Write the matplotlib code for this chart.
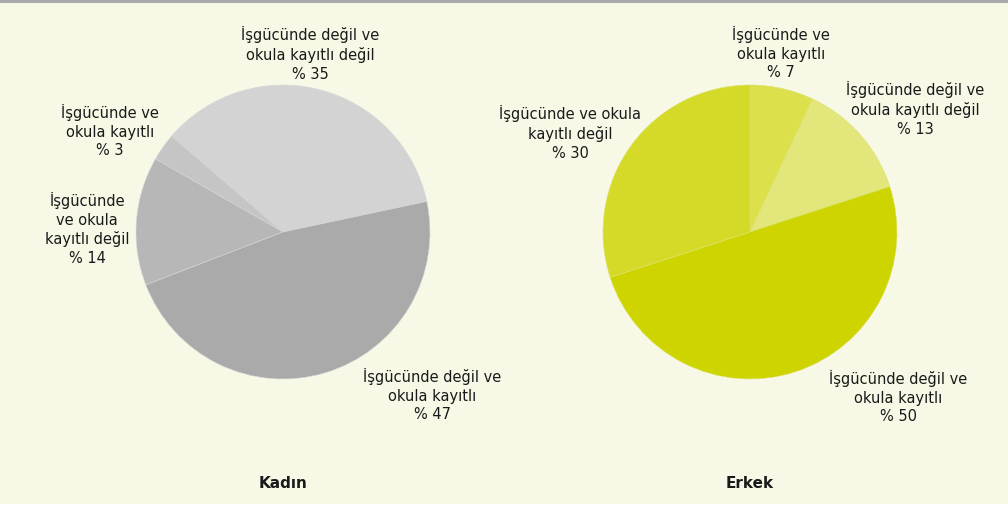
import matplotlib.pyplot as plt

# data
kadin_labels = ['İşgücünde değil ve\nokula kayıtlı değil\n% 35',
                'İşgücünde ve\nokula kayıtlı\n% 3',
                'İşgücünde\nve okula\nkayıtlı değil\n% 14',
                'İşgücünde değil ve\nokula kayıtlı\n% 47']
kadin_values = [35, 3, 14, 47]
kadin_colors = ['#d3d3d3', '#c5c5c5', '#b7b7b7', '#aaaaaa']

erkek_labels = ['İşgücünde ve\nokula kayıtlı\n% 7',
                'İşgücünde değil ve\nokula kayıtlı değil\n% 13',
                'İşgücünde değil ve\nokula kayıtlı\n% 50',
                'İşgücünde ve okula\nkayıtlı değil\n% 30']
erkek_values = [7, 13, 50, 30]
erkek_colors = ['#dbe04b', '#e3e77b', '#cdd400', '#d5da29']

titles = ['Kadın', 'Erkek']

plt.rcParams['font.family'] = ['DejaVu Sans']

W, H = 1008, 509
bg = '#f7f9e6'
fig = plt.figure(figsize=(W / 100, H / 100), dpi=100)
fig.patch.set_facecolor('white')

# background panel and top rule
back = fig.add_axes([0, 5 / H, 1, 1 - 5 / H])
back.set_facecolor(bg)
back.set_xticks([])
back.set_yticks([])
for s in back.spines.values():
    s.set_visible(False)
fig.add_artist(plt.Line2D([0, 1], [1 - 1 / H, 1 - 1 / H], color='#aaaaaa', lw=2.2))

R = 147


def pie_axes(cx, cy):
    ax = fig.add_axes([(cx - R) / W, 1 - (cy + R) / H, 2 * R / W, 2 * R / H])
    ax.set_xlim(-1, 1)
    ax.set_ylim(-1, 1)
    ax.axis('off')
    return ax


def put(ax, cx, cy, px, py, s, size=10.5, **kw):
    ax.text((px - cx) / R, (cy - py) / R, s, ha='center', va='center',
            fontsize=size, color='#1a1a1a', linespacing=1.3, clip_on=False, **kw)


# Kadın
cx, cy = 283, 232
ax1 = pie_axes(cx, cy)
ax1.pie(kadin_values, colors=kadin_colors, startangle=12, counterclock=True,
        radius=1, wedgeprops=dict(linewidth=0.4, edgecolor='#d8d8d8'))
ax1.set_xlim(-1, 1)
ax1.set_ylim(-1, 1)
pos1 = [(310, 54), (110, 131), (87, 229), (432, 395)]
for (px, py), s in zip(pos1, kadin_labels):
    put(ax1, cx, cy, px, py, s)
put(ax1, cx, cy, 283, 484, titles[0], size=11, fontweight='bold')

# Erkek
cx, cy = 750, 232
ax2 = pie_axes(cx, cy)
ax2.pie(erkek_values, colors=erkek_colors, startangle=90, counterclock=False,
        radius=1, wedgeprops=dict(linewidth=0.4, edgecolor='#dde26a'))
ax2.set_xlim(-1, 1)
ax2.set_ylim(-1, 1)
pos2 = [(781, 53), (915, 109), (898, 397), (570, 133)]
for (px, py), s in zip(pos2, erkek_labels):
    put(ax2, cx, cy, px, py, s)
put(ax2, cx, cy, 750, 484, titles[1], size=11, fontweight='bold')

fig.savefig('out.png', dpi=100, facecolor=fig.get_facecolor())
